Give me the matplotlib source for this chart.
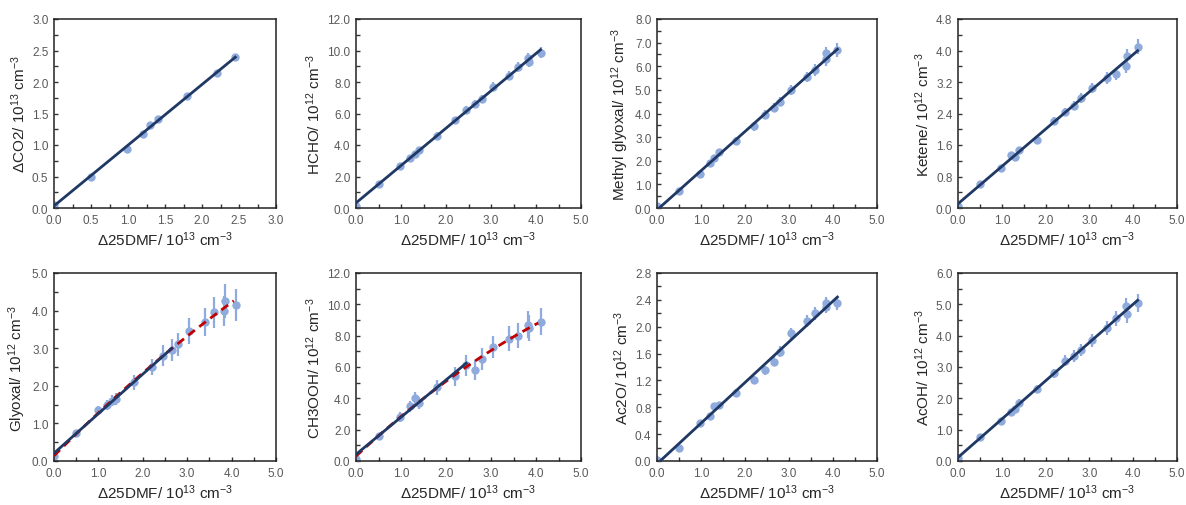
import matplotlib
matplotlib.use('Agg')
import matplotlib.pyplot as plt
from matplotlib.ticker import MultipleLocator, FormatStrFormatter
import numpy as np

plt.rcParams['font.family'] = ['Liberation Sans', 'DejaVu Sans']
plt.rcParams['mathtext.default'] = 'regular'

# x values (delta 25DMF, 1e13 cm-3)
dmf = [0.0, 0.5, 0.98, 1.2, 1.3, 1.4, 1.8, 2.2, 2.45, 2.65, 2.8, 3.05, 3.4, 3.6, 3.83, 3.85, 4.1]
dmf_co2 = dmf[:9]

co2 = [0.05, 0.50, 0.94, 1.18, 1.31, 1.41, 1.77, 2.15, 2.39]
co2_err = [0.02] * 9

hcho = [0.15, 1.55, 2.65, 3.15, 3.45, 3.7, 4.6, 5.6, 6.2, 6.6, 6.9, 7.7, 8.4, 8.95, 9.5, 9.3, 9.85]
hcho_err = [0.1, 0.15, 0.15, 0.2, 0.2, 0.2, 0.2, 0.2, 0.25, 0.25, 0.25, 0.3, 0.3, 0.3, 0.35, 0.35, 0.35]

mgly = [0.1, 0.7, 1.42, 1.9, 2.1, 2.35, 2.85, 3.45, 3.95, 4.25, 4.5, 5.0, 5.55, 5.85, 6.55, 6.3, 6.7]
mgly_err = [0.08, 0.1, 0.12, 0.12, 0.15, 0.15, 0.15, 0.18, 0.18, 0.2, 0.2, 0.2, 0.22, 0.25, 0.28, 0.3, 0.3]

ketene = [0.05, 0.62, 1.02, 1.35, 1.3, 1.48, 1.73, 2.2, 2.45, 2.6, 2.8, 3.05, 3.3, 3.4, 3.6, 3.85, 4.1]
ketene_err = [0.03, 0.05, 0.06, 0.07, 0.08, 0.08, 0.09, 0.1, 0.1, 0.12, 0.13, 0.13, 0.15, 0.15, 0.17, 0.2, 0.2]

glyoxal = [0.12, 0.75, 1.35, 1.48, 1.6, 1.65, 2.1, 2.5, 2.8, 2.95, 3.1, 3.45, 3.7, 3.95, 4.0, 4.25, 4.15]
glyoxal_err = [0.05, 0.08, 0.12, 0.13, 0.15, 0.15, 0.2, 0.22, 0.28, 0.3, 0.3, 0.35, 0.38, 0.4, 0.4, 0.45, 0.42]

ch3ooh = [0.1, 1.6, 2.8, 3.5, 4.0, 3.7, 4.7, 5.4, 6.1, 5.8, 6.5, 7.3, 7.8, 8.0, 8.7, 8.5, 8.9]
ch3ooh_err = [0.1, 0.15, 0.3, 0.35, 0.4, 0.4, 0.5, 0.6, 0.65, 0.65, 0.7, 0.7, 0.8, 0.8, 0.85, 0.85, 0.85]

ac2o = [0.02, 0.2, 0.57, 0.67, 0.82, 0.83, 1.02, 1.2, 1.35, 1.48, 1.63, 1.9, 2.08, 2.2, 2.35, 2.3, 2.35]
ac2o_err = [0.02, 0.03, 0.04, 0.04, 0.05, 0.05, 0.05, 0.06, 0.07, 0.07, 0.08, 0.08, 0.09, 0.1, 0.1, 0.1, 0.1]

acoh = [0.1, 0.78, 1.28, 1.55, 1.65, 1.85, 2.3, 2.8, 3.2, 3.35, 3.55, 3.85, 4.25, 4.55, 4.95, 4.7, 5.05]
acoh_err = [0.05, 0.08, 0.1, 0.1, 0.12, 0.12, 0.13, 0.15, 0.17, 0.18, 0.2, 0.2, 0.22, 0.25, 0.25, 0.28, 0.28]

x_label = '\u039425DMF/ 10$^{13}$ cm$^{-3}$'

# (x, y, err, ylabel, xmax, xstep, ymax, ystep, solid fit max x, dashed fit)
panels = [
    (dmf_co2, co2, co2_err, '\u0394CO2/ 10$^{13}$ cm$^{-3}$', 3.0, 0.5, 3.0, 0.5, None, False),
    (dmf, hcho, hcho_err, 'HCHO/ 10$^{12}$ cm$^{-3}$', 5.0, 1.0, 12.0, 2.0, None, False),
    (dmf, mgly, mgly_err, 'Methyl glyoxal/ 10$^{12}$ cm$^{-3}$', 5.0, 1.0, 8.0, 1.0, None, False),
    (dmf, ketene, ketene_err, 'Ketene/ 10$^{12}$ cm$^{-3}$', 5.0, 1.0, 4.8, 0.8, None, False),
    (dmf, glyoxal, glyoxal_err, 'Glyoxal/ 10$^{12}$ cm$^{-3}$', 5.0, 1.0, 5.0, 1.0, 2.65, True),
    (dmf, ch3ooh, ch3ooh_err, 'CH3OOH/ 10$^{12}$ cm$^{-3}$', 5.0, 1.0, 12.0, 2.0, 2.45, True),
    (dmf, ac2o, ac2o_err, 'Ac2O/ 10$^{12}$ cm$^{-3}$', 5.0, 1.0, 2.8, 0.4, None, False),
    (dmf, acoh, acoh_err, 'AcOH/ 10$^{12}$ cm$^{-3}$', 5.0, 1.0, 6.0, 1.0, None, False),
]

W, H = 1186, 506
boxes = [(54, 276), (356, 581), (657, 877), (958, 1177)]
rows = [(20, 209), (274, 462)]

point_c = '#8FAADC'
fit_c = '#1F3864'
dash_c = '#C00000'
tick_c = '#595959'

fig = plt.figure(figsize=(W / 100, H / 100), dpi=100)

for i, (x, y, e, ylab, xmax, xstep, ymax, ystep, solid_max, dashed) in enumerate(panels):
    l, r = boxes[i % 4]
    t, b = rows[i // 4]
    ax = fig.add_axes([l / W, 1 - b / H, (r - l) / W, (b - t) / H])
    x = np.array(x)
    y = np.array(y)
    ax.errorbar(x, y, yerr=e, xerr=0.03, fmt='o', ms=5, color=point_c, ecolor=point_c,
                elinewidth=1.6, capsize=0, zorder=2)
    if dashed:
        # quadratic trend over all points
        p = np.polyfit(x, y, 2)
        xs = np.linspace(0, x.max() - 0.05, 60)
        ax.plot(xs, np.polyval(p, xs), '--', color=dash_c, lw=2, dashes=(3, 2), zorder=3)
    if solid_max is not None:
        m = x <= solid_max
        k, c = np.polyfit(x[m], y[m], 1)
        xs = np.array([0, solid_max])
    else:
        k, c = np.polyfit(x, y, 1)
        xs = np.array([0, x.max()])
    if c < 0:
        xs[0] = -c / k
    ax.plot(xs, k * xs + c, '-', color=fit_c, lw=2, zorder=4)

    ax.set_xlim(0, xmax)
    ax.set_ylim(0, ymax)
    ax.xaxis.set_major_locator(MultipleLocator(xstep))
    ax.xaxis.set_minor_locator(MultipleLocator(xstep / 2))
    ax.yaxis.set_major_locator(MultipleLocator(ystep))
    ax.yaxis.set_minor_locator(MultipleLocator(ystep / 2))
    ax.xaxis.set_major_formatter(FormatStrFormatter('%.1f'))
    ax.yaxis.set_major_formatter(FormatStrFormatter('%.1f'))
    ax.tick_params(which='both', direction='in', length=3, width=1, color='#333333',
                   labelsize=8.5, labelcolor=tick_c, pad=4)
    for s in ax.spines.values():
        s.set_linewidth(1.1)
        s.set_color('#222222')
    ax.set_xlabel(x_label, fontsize=11, color='#262626', labelpad=3)
    ax.set_ylabel(ylab, fontsize=11, color='#262626', labelpad=3)

fig.savefig('out.png', dpi=100)
